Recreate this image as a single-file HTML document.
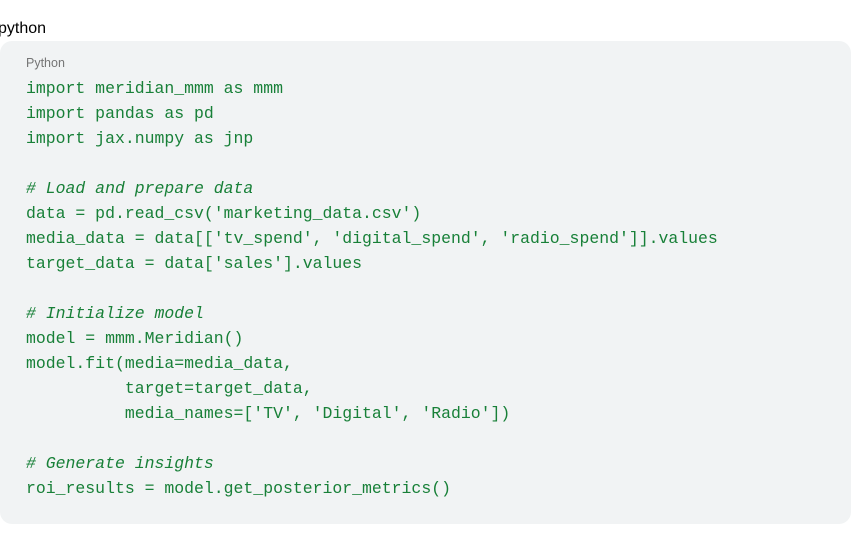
<!DOCTYPE html>
<html><head><style>
body{margin:0;width:866px;height:538px;background:#fff;position:relative;overflow:hidden;font-family:"Liberation Sans",sans-serif}
.lbl{position:absolute;left:-2px;top:20px;font-size:16px;color:#000;line-height:18px}
.box{position:absolute;left:0;top:41px;width:851px;height:483px;background:#f1f3f4;border-radius:12px}
.py{position:absolute;left:26px;top:56px;font-size:12.5px;color:#757575;line-height:14px}
pre{position:absolute;left:26px;top:76px;margin:0;font-family:"Liberation Mono",monospace;font-size:16.48px;line-height:25px;color:#188038}
i{font-style:italic}
</style></head><body>
<div class="lbl">python</div>
<div class="box"></div>
<div class="py">Python</div>
<pre>import meridian_mmm as mmm
import pandas as pd
import jax.numpy as jnp

<i># Load and prepare data</i>
data = pd.read_csv('marketing_data.csv')
media_data = data[['tv_spend', 'digital_spend', 'radio_spend']].values
target_data = data['sales'].values

<i># Initialize model</i>
model = mmm.Meridian()
model.fit(media=media_data,
          target=target_data,
          media_names=['TV', 'Digital', 'Radio'])

<i># Generate insights</i>
roi_results = model.get_posterior_metrics()</pre>
</body></html>
